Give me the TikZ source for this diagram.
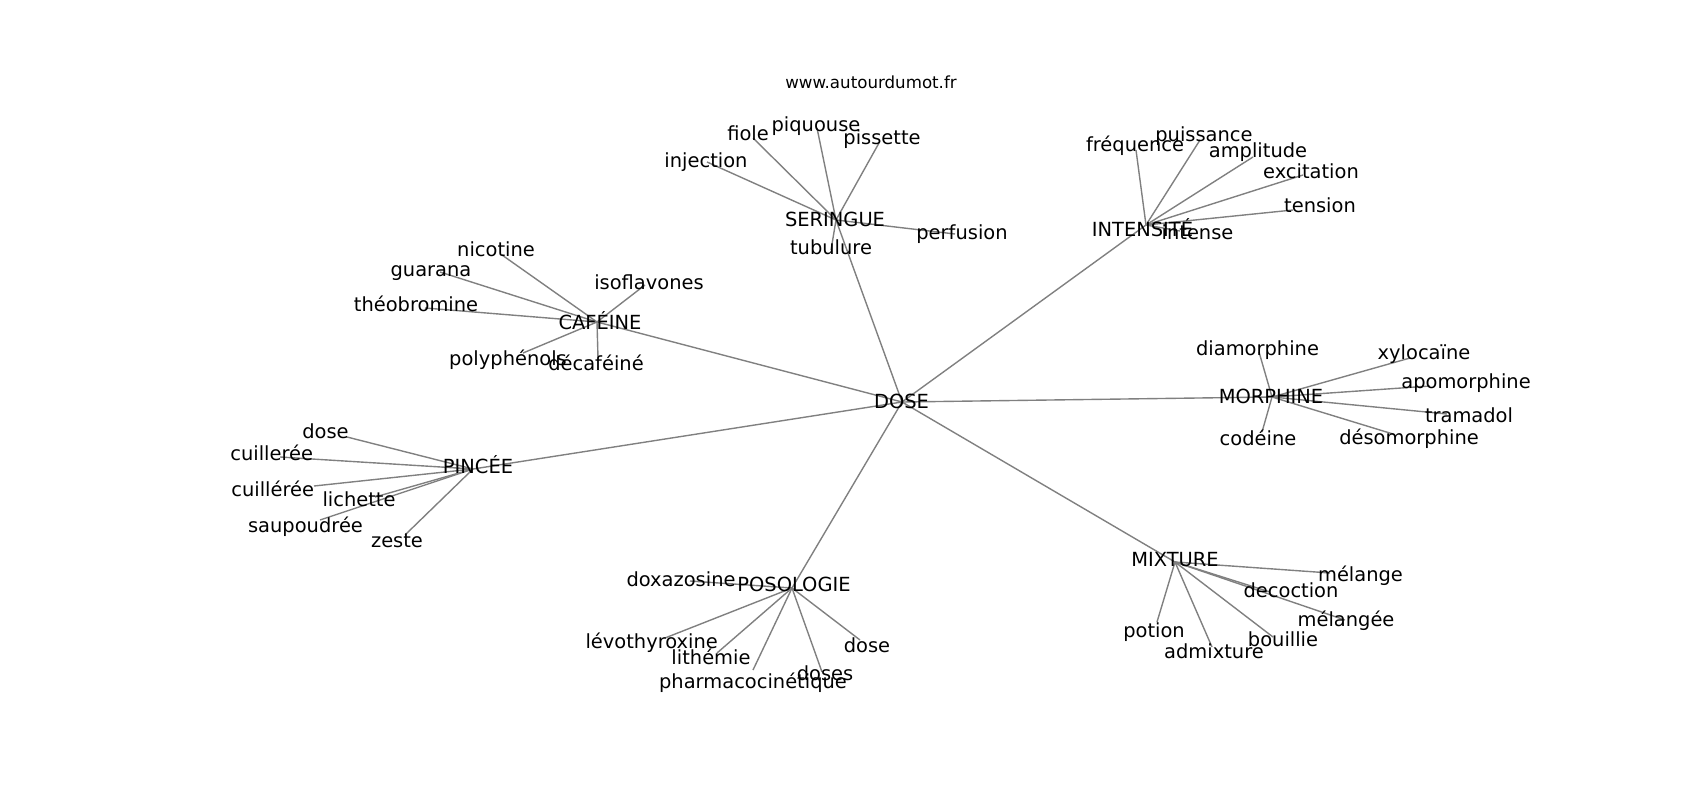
\documentclass[tikz,border=0pt]{standalone}
\usepackage{fontspec}
\setmainfont{DejaVu Sans}
\tikzset{
  lbl/.style={anchor=base, inner sep=0pt, font=\fontsize{14}{16}\selectfont, text=black},
  ttl/.style={anchor=base, inner sep=0pt, font=\fontsize{12}{14}\selectfont, text=black},
  link/.style={draw=gray, line width=1pt}
}
\begin{document}
\begin{tikzpicture}[x=0.72pt,y=-0.72pt]
\useasboundingbox[fill=white] (0,0) rectangle (1700,800);
% graph node positions
\coordinate (dose) at (902,402);
\coordinate (seringue) at (836,220);
\coordinate (injection) at (707,162);
\coordinate (fiole) at (753,138);
\coordinate (piquouse) at (817,128);
\coordinate (pissette) at (879,143);
\coordinate (perfusion) at (955,234);
\coordinate (tubulure) at (831,250);
\coordinate (intensite) at (1146,225);
\coordinate (frequence) at (1136,150);
\coordinate (puissance) at (1200,140);
\coordinate (amplitude) at (1253,157);
\coordinate (excitation) at (1303,175);
\coordinate (tension) at (1293,210);
\coordinate (intense) at (1180,231);
\coordinate (cafeine) at (597,322);
\coordinate (nicotine) at (502,255);
\coordinate (guarana) at (440,272);
\coordinate (theobromine) at (425,308);
\coordinate (isoflavones) at (645,285);
\coordinate (polyphenols) at (523,353);
\coordinate (decafeine) at (598,358);
\coordinate (morphine) at (1272,397);
\coordinate (diamorphine) at (1259,352);
\coordinate (xylocaine) at (1410,358);
\coordinate (apomorphine) at (1430,386);
\coordinate (tramadol) at (1447,414);
\coordinate (codeine) at (1262,432);
\coordinate (desomorphine) at (1393,434);
\coordinate (pincee) at (473,469);
\coordinate (doseA) at (347,437);
\coordinate (cuilleree) at (280,457);
\coordinate (cuillereeB) at (314,486);
\coordinate (lichette) at (375,497);
\coordinate (saupoudree) at (320,520);
\coordinate (zeste) at (405,535);
\coordinate (posologie) at (792,588);
\coordinate (doxazosine) at (690,581);
\coordinate (levothyroxine) at (665,638);
\coordinate (lithemie) at (717,653);
\coordinate (pharmaco) at (753,670);
\coordinate (doses) at (822,672);
\coordinate (doseB) at (860,640);
\coordinate (mixture) at (1175,562);
\coordinate (melange) at (1330,573);
\coordinate (decoction) at (1270,592);
\coordinate (melangee) at (1345,620);
\coordinate (potion) at (1157,622);
\coordinate (admixture) at (1212,647);
\coordinate (bouillie) at (1273,637);
% connectors
\foreach \c in {seringue,intensite,cafeine,morphine,pincee,posologie,mixture}
  \draw[link] (dose) -- (\c);
\foreach \c in {injection,fiole,piquouse,pissette,perfusion,tubulure}
  \draw[link] (seringue) -- (\c);
\foreach \c in {frequence,puissance,amplitude,excitation,tension,intense}
  \draw[link] (intensite) -- (\c);
\foreach \c in {nicotine,guarana,theobromine,isoflavones,polyphenols,decafeine}
  \draw[link] (cafeine) -- (\c);
\foreach \c in {diamorphine,xylocaine,apomorphine,tramadol,codeine,desomorphine}
  \draw[link] (morphine) -- (\c);
\foreach \c in {doseA,cuilleree,cuillereeB,lichette,saupoudree,zeste}
  \draw[link] (pincee) -- (\c);
\foreach \c in {doxazosine,levothyroxine,lithemie,pharmaco,doses,doseB}
  \draw[link] (posologie) -- (\c);
\foreach \c in {melange,decoction,melangee,potion,admixture,bouillie}
  \draw[link] (mixture) -- (\c);
% labels
\node[ttl] (title) at (871,88.3) {www.autourdumot.fr};
\node[lbl] (t-dose) at (901.5,408.3) {DOSE};
\node[lbl] (t-seringue) at (835,226.5) {SERINGUE};
\node[lbl] (t-injection) at (706,167.7) {injection};
\node[lbl] (t-fiole) at (748,140) {fiole};
\node[lbl] (t-piquouse) at (816,131.7) {piquouse};
\node[lbl] (t-pissette) at (882,144.3) {pissette};
\node[lbl] (t-perfusion) at (962,239.3) {perfusion};
\node[lbl] (t-tubulure) at (831,254.3) {tubulure};
\node[lbl] (t-intensite) at (1142.5,236.7) {INTENSITÉ};
\node[lbl] (t-frequence) at (1135,151.7) {fréquence};
\node[lbl] (t-puissance) at (1204,141.7) {puissance};
\node[lbl] (t-amplitude) at (1258,157.7) {amplitude};
\node[lbl] (t-excitation) at (1311,178.3) {excitation};
\node[lbl] (t-tension) at (1320,212.7) {tension};
\node[lbl] (t-intense) at (1197.5,239.3) {intense};
\node[lbl] (t-cafeine) at (600,329.3) {CAFÉINE};
\node[lbl] (t-nicotine) at (496,256) {nicotine};
\node[lbl] (t-guarana) at (431,276) {guarana};
\node[lbl] (t-theobromine) at (416,311.7) {théobromine};
\node[lbl] (t-isoflavones) at (649,289.3) {isoflavones};
\node[lbl] (t-polyphenols) at (508,365) {polyphénols};
\node[lbl] (t-decafeine) at (596,370.7) {décaféiné};
\node[lbl] (t-morphine) at (1271,403.3) {MORPHINE};
\node[lbl] (t-diamorphine) at (1257.5,355) {diamorphine};
\node[lbl] (t-xylocaine) at (1424,359.3) {xylocaïne};
\node[lbl] (t-apomorphine) at (1466,388.3) {apomorphine};
\node[lbl] (t-tramadol) at (1469,422.7) {tramadol};
\node[lbl] (t-codeine) at (1258,445) {codéine};
\node[lbl] (t-desomorphine) at (1409,444) {désomorphine};
\node[lbl] (t-pincee) at (478,473.3) {PINCÉE};
\node[lbl] (t-doseA) at (325.5,438.3) {dose};
\node[lbl] (t-cuilleree) at (271.7,460.7) {cuillerée};
\node[lbl] (t-cuillereeB) at (272.7,496) {cuillérée};
\node[lbl] (t-lichette) at (359,506) {lichette};
\node[lbl] (t-saupoudree) at (305.5,532.3) {saupoudrée};
\node[lbl] (t-zeste) at (397,547.3) {zeste};
\node[lbl] (t-posologie) at (794,591.7) {POSOLOGIE};
\node[lbl] (t-doxazosine) at (681,586.7) {doxazosine};
\node[lbl] (t-levothyroxine) at (651.7,648.3) {lévothyroxine};
\node[lbl] (t-lithemie) at (711,664) {lithémie};
\node[lbl] (t-pharmaco) at (753,688.3) {pharmacocinétique};
\node[lbl] (t-doses) at (825,680) {doses};
\node[lbl] (t-doseB) at (867,652.7) {dose};
\node[lbl] (t-mixture) at (1175,566) {MIXTURE};
\node[lbl] (t-melange) at (1360.5,581.7) {mélange};
\node[lbl] (t-decoction) at (1291,597.3) {decoction};
\node[lbl] (t-melangee) at (1346,626) {mélangée};
\node[lbl] (t-potion) at (1154,637.3) {potion};
\node[lbl] (t-bouillie) at (1283,646) {bouillie};
\node[lbl] (t-admixture) at (1214,658.3) {admixture};
\end{tikzpicture}
\end{document}
